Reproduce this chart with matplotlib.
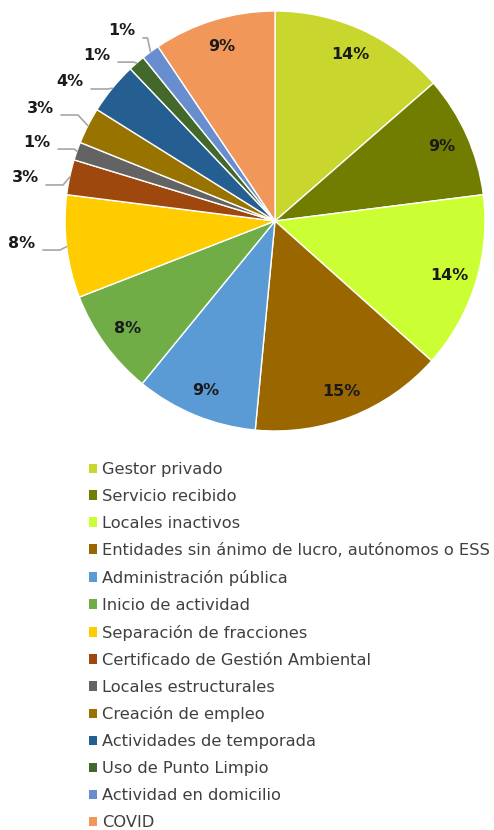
import numpy as np
import matplotlib
matplotlib.use("Agg")
import matplotlib.pyplot as plt
from matplotlib.patches import Patch

plt.rcParams["font.family"] = ["DejaVu Sans"]

categories = ["Gestor privado", "Servicio recibido", "Locales inactivos",
              "Entidades sin ánimo de lucro, autónomos o ESS",
              "Administración pública", "Inicio de actividad",
              "Separación de fracciones", "Certificado de Gestión Ambiental",
              "Locales estructurales", "Creación de empleo",
              "Actividades de temporada", "Uso de Punto Limpio",
              "Actividad en domicilio", "COVID"]
values = [13.6, 9.4, 13.6, 14.9, 9.4, 8.2, 7.9, 2.7, 1.4, 2.8, 4.0, 1.3, 1.4, 9.4]
colors = ["#C8D62E", "#717D00", "#CCFF33", "#996600", "#5B9BD5", "#70AD47",
          "#FFCC00", "#9E480E", "#636363", "#997300", "#255E91", "#43682B",
          "#698ED0", "#F1975A"]

# slices whose label sits outside, with label centre (data units)
outside = {6: (-1.205, -0.105), 7: (-1.19, 0.205), 8: (-1.133, 0.376),
           9: (-1.119, 0.538), 10: (-0.976, 0.662), 11: (-0.848, 0.790),
           12: (-0.729, 0.905)}

W, H = 494, 830
fig = plt.figure(figsize=(W / 100, H / 100), dpi=100)
cx, cy, r = 275, 221, 210
ax = fig.add_axes([(cx - r) / W, (H - cy - r) / H, 2 * r / W, 2 * r / H])

wedges, _ = ax.pie(values, colors=colors, startangle=90, counterclock=False,
                   radius=1.0, wedgeprops=dict(edgecolor="white", linewidth=1))
ax.set_xlim(-1, 1)
ax.set_ylim(-1, 1)
ax.set_aspect("equal")
ax.axis("off")

total = sum(values)
px = 1 / r
for i, w in enumerate(wedges):
    pct = "%d%%" % round(values[i] / total * 100)
    mid = np.deg2rad((w.theta1 + w.theta2) / 2)
    if i in outside:
        lx, ly = outside[i]
        t = ax.text(lx, ly, pct, ha="center", va="center", fontsize=11.5,
                    fontweight="bold", color="#1a1a1a", clip_on=False)
        ex, ey = np.cos(mid), np.sin(mid)
        sx = lx + 21 * px
        yl = ly - 7 * px
        elx = min(sx + 17 * px, ex - 3 * px)
        ax.plot([sx, elx, ex], [yl, yl, ey], color="#A6A6A6", lw=1.2,
                clip_on=False, solid_capstyle="round")
    else:
        d = 0.87
        ax.text(d * np.cos(mid), d * np.sin(mid), pct, ha="center", va="center",
                fontsize=11.5, fontweight="bold", color="#1a1a1a")

handles = [Patch(facecolor=c, edgecolor="none") for c in colors]
fig.legend(handles, categories, loc="upper left",
           bbox_to_anchor=(89 / W, 1 - 462 / H), frameon=False,
           fontsize=11.7, labelcolor="#404040", handlelength=0.52,
           handleheight=0.52, handletextpad=0.3, labelspacing=0.735,
           borderaxespad=0, borderpad=0)

fig.savefig("out.png", dpi=100)
